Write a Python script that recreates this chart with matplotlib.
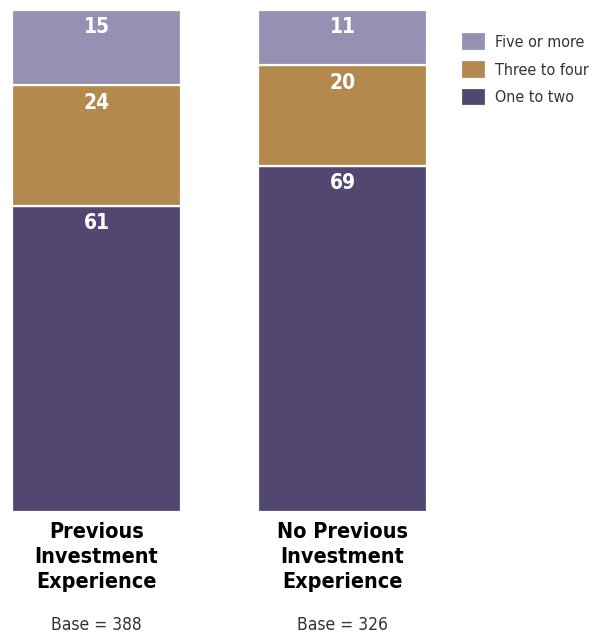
import numpy as np
import matplotlib.pyplot as plt

groups = ["Previous\nInvestment\nExperience", "No Previous\nInvestment\nExperience"]
bases = [388, 326]
series = ["One to two", "Three to four", "Five or more"]
one_two = [61, 69]
three_four = [24, 20]
five_more = [15, 11]
colors = ["#514771", "#B3894D", "#9591B2"]

W, H = 595, 637
fig = plt.figure(figsize=(W / 100, H / 100), dpi=100)
ax = fig.add_axes([12 / W, (H - 512) / H, (427 - 12) / W, 502 / H])

fam = ["DejaVu Sans"]
st = "condensed"
x = np.arange(len(groups))
width = 0.687
bottom = np.zeros(len(groups))
handles = []
for name, vals, c in zip(series, [one_two, three_four, five_more], colors):
    vals = np.array(vals, dtype=float)
    b = ax.bar(x, vals, width, bottom=bottom, color=c, edgecolor="white",
               linewidth=1.6, label=name)
    handles.append(b)
    for xi, v, bt in zip(x, vals, bottom):
        ax.annotate(f"{int(v)}", (xi, bt + v), xytext=(0, -12.5),
                    textcoords="offset points", ha="center", va="center",
                    color="white", fontsize=15, fontweight="bold",
                    family=fam, stretch=st)
    bottom += vals

ax.set_xlim(-width / 2, 1 + width / 2)
ax.set_ylim(0, 100)
ax.axis("off")

for xi, g, base in zip(x, groups, bases):
    ax.text(xi, -2.0, g, ha="center", va="top", fontsize=15.5, fontweight="bold",
            family=fam, stretch=st, linespacing=1.3)
    ax.text(xi, -22.5, f"Base = {base}", ha="center", va="center", fontsize=12.5,
            family=fam, stretch=st, color="#333333")

fig.legend(handles[::-1], series[::-1], loc="upper left",
           bbox_to_anchor=(461 / W, 1 - 32 / H), frameon=False,
           borderpad=0, borderaxespad=0,
           prop={"family": fam, "stretch": st, "size": 11.5}, handlelength=1.55,
           handleheight=1.45, handletextpad=0.6, labelspacing=0.55,
           labelcolor="#333333")

fig.savefig("out.png", dpi=100)
